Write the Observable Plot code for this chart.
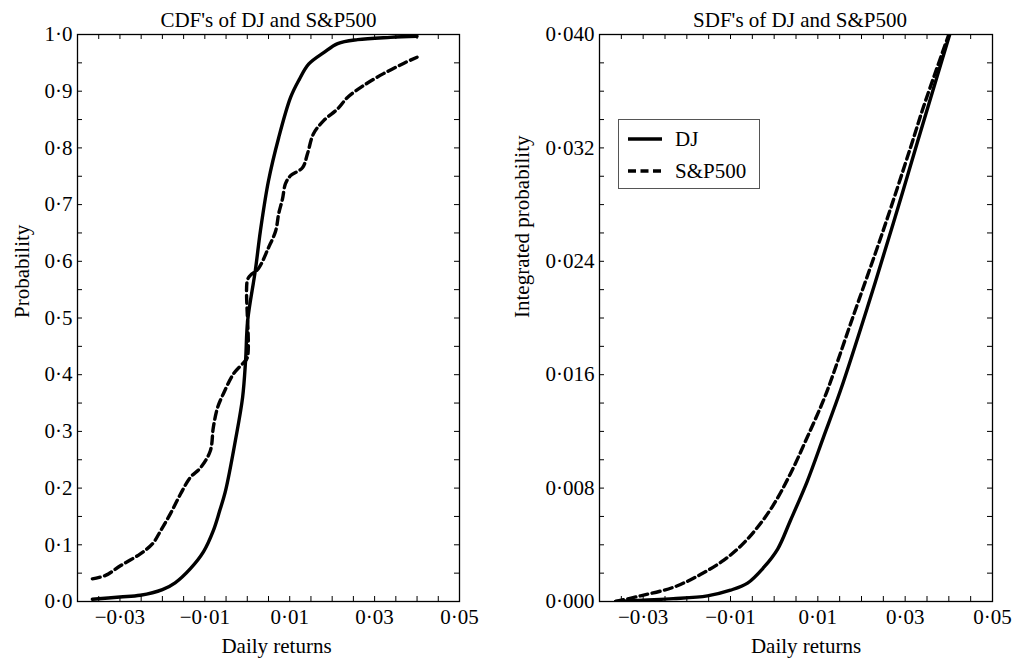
<!DOCTYPE html>
<html>
<head>
<meta charset="utf-8">
<script src="https://cdn.jsdelivr.net/npm/d3@7"></script>
<script src="https://cdn.jsdelivr.net/npm/@observablehq/plot@0.6"></script>
<style>
  html, body { margin: 0; padding: 0; background: #fff; }
  #wrap { position: relative; width: 1013px; height: 660px; font-family: "Liberation Serif", "Times New Roman", serif; }
  #left { position: absolute; left: 0; top: 0; }
  #right { position: absolute; left: 500px; top: 0; }
  #legend { position: absolute; left: 618px; top: 119px; width: 142px; height: 70px; box-sizing: border-box; border: 1px solid #555; background: #fff; }
  #legend svg { display: block; }
</style>
</head>
<body>
<div id="wrap">
  <div id="left"></div>
  <div id="right"></div>
  <div id="legend"></div>
</div>
<script>
// ---- Data ----
const seriesNames = ["DJ", "S&P500"];

// CDF panel
const cdfDJ_x = [-0.0365, -0.0300, -0.0252, -0.0200, -0.0170, -0.0134, -0.0103, -0.0080, -0.0065, -0.0051, -0.0028, -0.0011, -0.0004, 0.0001, 0.0019, 0.0031, 0.0050, 0.0074, 0.0102, 0.0122, 0.0145, 0.0180, 0.0213, 0.0260, 0.0337, 0.0400];
const cdfDJ_p = [0.004, 0.008, 0.011, 0.021, 0.033, 0.058, 0.088, 0.125, 0.160, 0.196, 0.284, 0.360, 0.425, 0.496, 0.584, 0.654, 0.742, 0.818, 0.889, 0.920, 0.948, 0.968, 0.984, 0.991, 0.995, 0.997];

const cdfSP_x = [-0.0365, -0.0334, -0.0299, -0.0252, -0.0223, -0.0204, -0.0181, -0.0157, -0.0134, -0.0110, -0.0087, -0.0080, -0.0070, -0.0056, -0.0032, -0.0009, 0.0000, 0.0000, 0.0007, 0.0026, 0.0050, 0.0067, 0.0074, 0.0083, 0.0090, 0.0102, 0.0130, 0.0142, 0.0156, 0.0180, 0.0213, 0.0236, 0.0274, 0.0321, 0.0368, 0.0400];
const cdfSP_p = [0.040, 0.046, 0.063, 0.084, 0.102, 0.125, 0.155, 0.190, 0.219, 0.236, 0.266, 0.307, 0.342, 0.367, 0.402, 0.421, 0.430, 0.566, 0.575, 0.587, 0.624, 0.654, 0.684, 0.710, 0.737, 0.751, 0.765, 0.790, 0.825, 0.848, 0.869, 0.889, 0.910, 0.931, 0.949, 0.960];

// SDF panel
const sdfDJ_x = [-0.0363, -0.0300, -0.0231, -0.0153, -0.0100, -0.0061, -0.0024, 0.0008, 0.0037, 0.0076, 0.0113, 0.0152, 0.0214, 0.0273, 0.0328, 0.0402];
const sdfDJ_v = [0.0000, 0.0001, 0.0002, 0.0004, 0.0008, 0.0013, 0.0024, 0.0037, 0.0057, 0.0085, 0.0116, 0.0149, 0.0208, 0.0267, 0.0324, 0.0400];

const sdfSP_x = [-0.0363, -0.0306, -0.0231, -0.0169, -0.0116, -0.0077, -0.0039, -0.0002, 0.0037, 0.0076, 0.0113, 0.0129, 0.0175, 0.0250, 0.0312, 0.0342, 0.0400];
const sdfSP_v = [0.0000, 0.0004, 0.0010, 0.0019, 0.0029, 0.0039, 0.0052, 0.0068, 0.0090, 0.0116, 0.0142, 0.0155, 0.0196, 0.0262, 0.0320, 0.0349, 0.0400];

// Tick values
const xTickLabels = [-0.03, -0.01, 0.01, 0.03, 0.05];
const xMinorTicks = d3.range(-0.035, 0.0451, 0.005);
const cdfYLabels = d3.range(0, 1.0001, 0.1);
const cdfYMinor = d3.range(0.05, 0.951, 0.05);
const sdfYLabels = d3.range(0, 0.04001, 0.008);
const sdfYMinor = d3.range(0.002, 0.0381, 0.002);

// ---- Helpers ----
const FONT = '"Liberation Serif", "Times New Roman", serif';
const FS = 21;
const dotFmt = (spec) => { const f = d3.format(spec); return d => f(Math.abs(d) < 1e-12 ? 0 : d).replace(".", "\u00B7"); };
const zip = (xs, ys) => xs.map((x, i) => ({x, y: ys[i]}));
const LINE_W = 3.4;
const DASH = "8,4.5";

function panel({width, marginLeft, marginRight, yDomain, yLabels, yMinor, yFmt, title, titleDx, ylabel, ylabelDx, xlabelDx, solid, dashed}) {
  const marginTop = 34, marginBottom = 59, height = 660;
  const innerW = width - marginLeft - marginRight;
  const innerH = height - marginTop - marginBottom;
  const T = 5;
  return Plot.plot({
    width, height, marginLeft, marginRight, marginTop, marginBottom,
    style: {fontFamily: FONT, fontSize: FS + "px", color: "black", background: "white", overflow: "visible"},
    x: {domain: [-0.04, 0.05]},
    y: {domain: yDomain},
    marks: [
      // curves
      Plot.line(solid, {x: "x", y: "y", stroke: "black", strokeWidth: LINE_W, curve: "catmull-rom", clip: true}),
      Plot.line(dashed, {x: "x", y: "y", stroke: "black", strokeWidth: LINE_W, strokeDasharray: DASH, curve: "catmull-rom", clip: true}),
      // inward ticks, all four sides
      Plot.tickX(xMinorTicks, {x: d => d, insetTop: innerH - T, stroke: "black", strokeWidth: 1}),
      Plot.tickX(xMinorTicks, {x: d => d, insetBottom: innerH - T, stroke: "black", strokeWidth: 1}),
      Plot.tickY(yMinor, {y: d => d, insetRight: innerW - T, stroke: "black", strokeWidth: 1}),
      Plot.tickY(yMinor, {y: d => d, insetLeft: innerW - T, stroke: "black", strokeWidth: 1}),
      // tick labels
      Plot.axisX(xTickLabels, {tickSize: 0, tickPadding: 8, tickFormat: dotFmt(".2f"), fontSize: FS, label: null}),
      Plot.axisY(yLabels, {tickSize: 0, tickPadding: 5, tickFormat: yFmt, fontSize: FS, label: null}),
      Plot.frame({stroke: "black", strokeWidth: 1.3}),
      // titles & axis labels
      Plot.text([title], {text: d => d, frameAnchor: "top", dy: -14, dx: titleDx, lineAnchor: "middle", fontSize: FS}),
      Plot.text(["Daily returns"], {text: d => d, frameAnchor: "bottom", dy: 45, dx: xlabelDx, lineAnchor: "middle", fontSize: FS}),
      Plot.text([ylabel], {text: d => d, frameAnchor: "left", dx: ylabelDx, rotate: -90, lineAnchor: "middle", fontSize: FS})
    ]
  });
}

document.getElementById("left").append(panel({
  width: 500, marginLeft: 77, marginRight: 41,
  yDomain: [0, 1], yLabels: cdfYLabels, yMinor: cdfYMinor, yFmt: dotFmt(".1f"),
  title: "CDF's of DJ and S&P500", titleDx: 0,
  ylabel: "Probability", ylabelDx: -55, xlabelDx: 8,
  solid: zip(cdfDJ_x, cdfDJ_p), dashed: zip(cdfSP_x, cdfSP_p)
}));

document.getElementById("right").append(panel({
  width: 513, marginLeft: 99, marginRight: 21,
  yDomain: [0, 0.04], yLabels: sdfYLabels, yMinor: sdfYMinor, yFmt: dotFmt(".3f"),
  title: "SDF's of DJ and S&P500", titleDx: 4,
  ylabel: "Integrated probability", ylabelDx: -77, xlabelDx: 10,
  solid: zip(sdfDJ_x, sdfDJ_v), dashed: zip(sdfSP_x, sdfSP_v)
}));

// Legend
const lg = d3.select("#legend").append("svg").attr("width", 140).attr("height", 68)
  .style("font-family", FONT).style("font-size", FS + "px");
seriesNames.forEach((name, i) => {
  const y = 19 + i * 32;
  lg.append("line").attr("x1", 9).attr("x2", 43).attr("y1", y).attr("y2", y)
    .attr("stroke", "black").attr("stroke-width", LINE_W)
    .attr("stroke-dasharray", i === 1 ? DASH : null);
  lg.append("text").attr("x", 56).attr("y", y + 7).attr("fill", "black").text(name);
});
</script>
</body>
</html>
